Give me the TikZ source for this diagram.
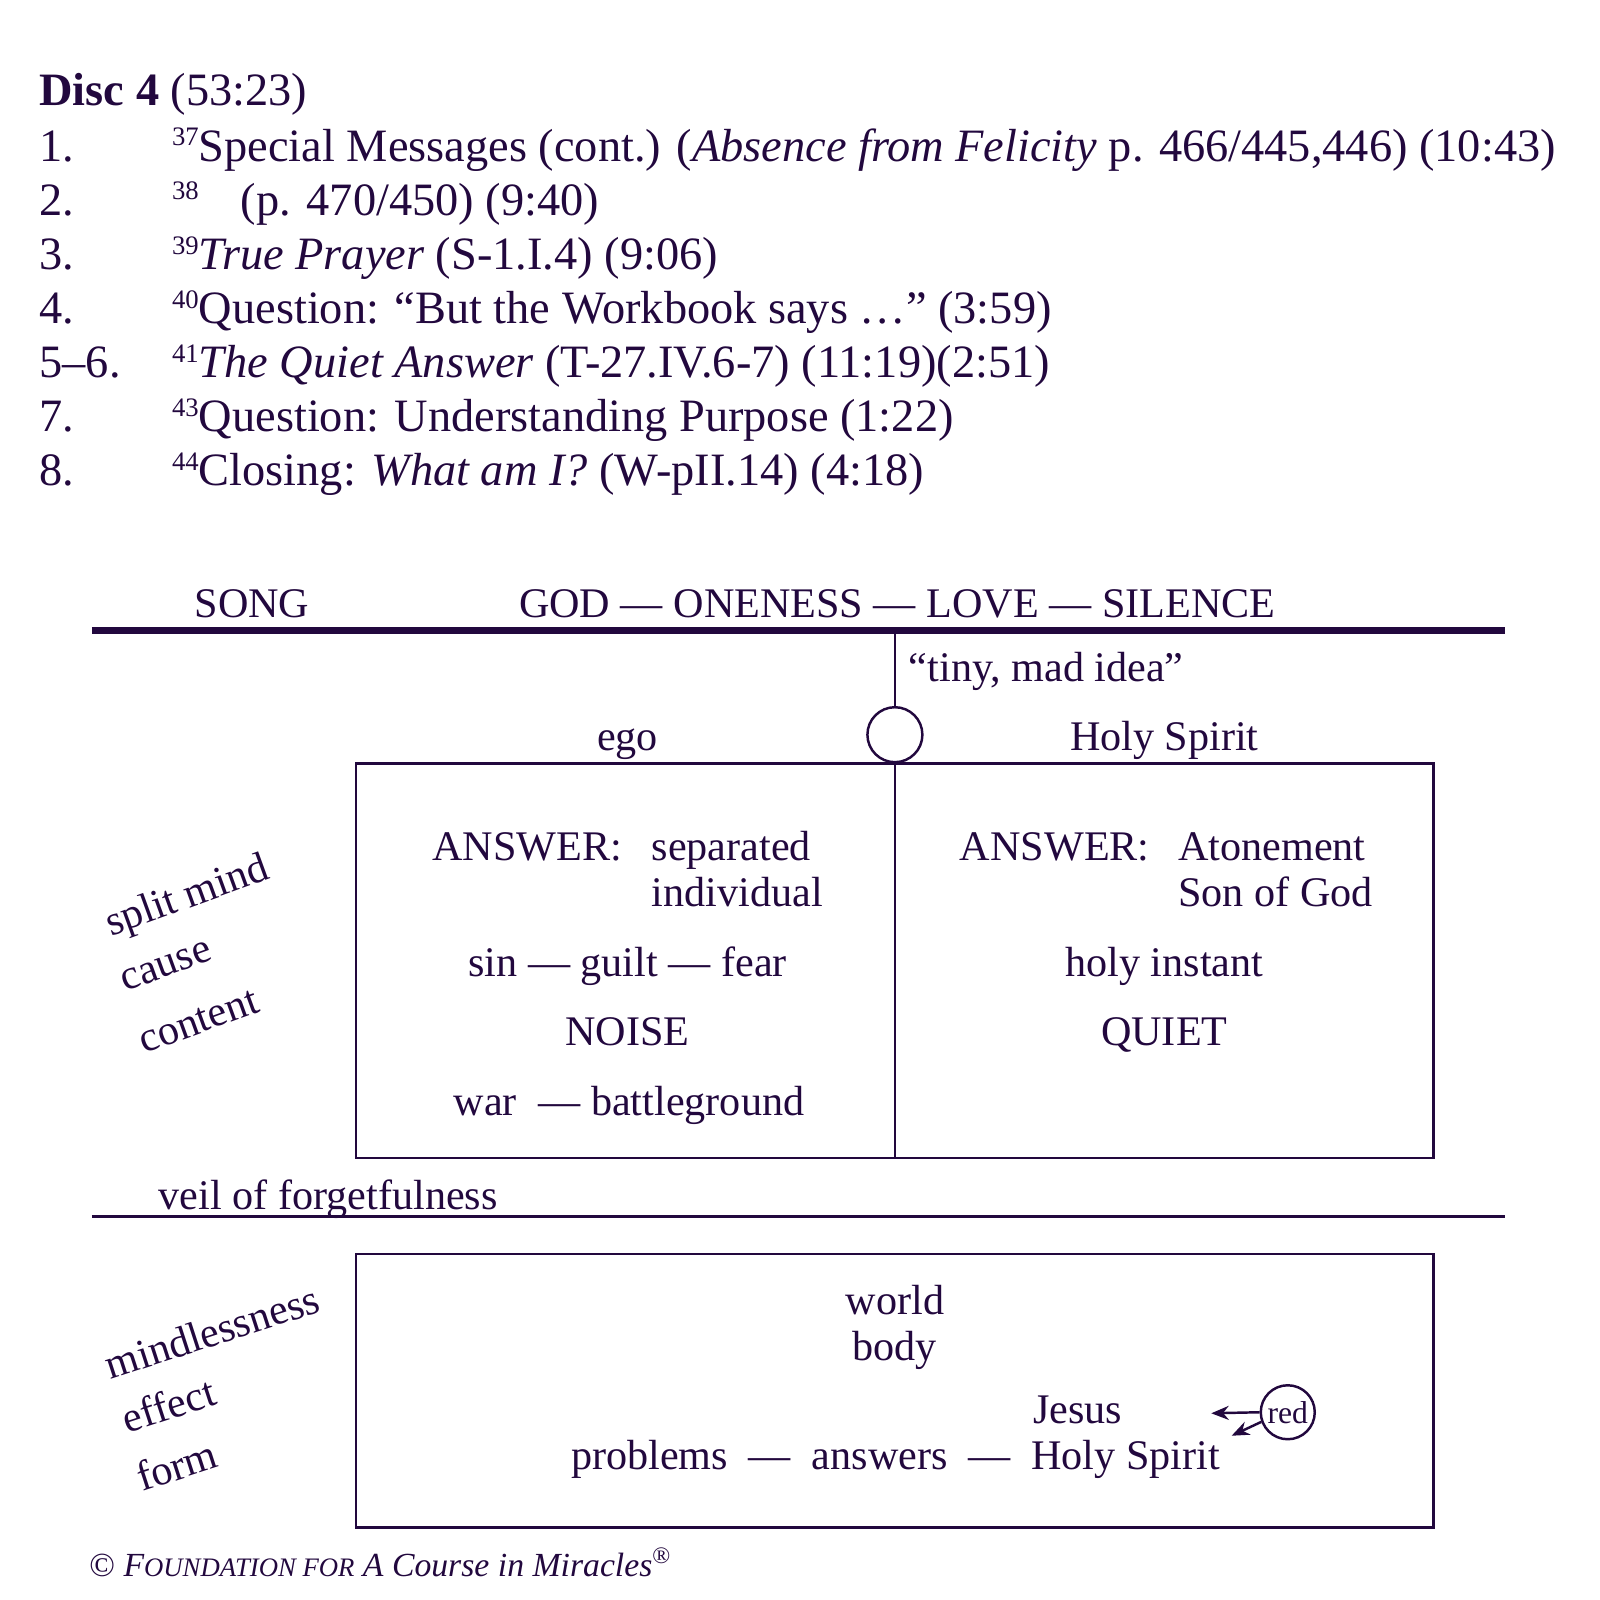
\documentclass[tikz,border=0pt]{standalone}
\usepackage{fontspec}
\setmainfont{Liberation Serif}
\usetikzlibrary{arrows.meta}
\definecolor{ink}{RGB}{34,8,62}
\newcommand{\tracknum}[1]{\raisebox{0.72ex}{\fontsize{7.6}{8}\selectfont #1}}

\begin{document}
\begin{tikzpicture}[x=0.010204cm, y=-0.010204cm, color=ink,
  txt/.style={anchor=base, font=\fontsize{12}{14}\selectfont, inner sep=0pt},
  ltxt/.style={txt, anchor=base west},
  head/.style={anchor=base west, font=\fontsize{13.2}{16}\selectfont, inner sep=0pt},
  slant/.style={font=\fontsize{12}{14}\selectfont, inner sep=0pt, rotate=#1},
  thinline/.style={line width=0.7pt},
  tip/.style={-{Stealth[length=5pt, width=4pt]}, line width=0.7pt}]
\useasboundingbox (0,0) rectangle (1568,1568);
% heading and tracks
\node[head] (disc) at (38,103) {\textbf{Disc 4} (53:23)};
\foreach \num/\txt [count=\i] in {
    1./{\tracknum{37}Special Messages (cont.) (\textit{Absence from Felicity} p. 466/445,446) (10:43)},
    2./{\tracknum{38}\hspace{12pt}(p. 470/450) (9:40)},
    3./{\tracknum{39}\textit{True Prayer} (S-1.I.4) (9:06)},
    4./{\tracknum{40}Question: “But the Workbook says …” (3:59)},
    5–6./{\tracknum{41}\textit{The Quiet Answer} (T-27.IV.6-7) (11:19)(2:51)},
    7./{\tracknum{43}Question: Understanding Purpose (1:22)},
    8./{\tracknum{44}Closing: \textit{What am I?} (W-pII.14) (4:18)}} {
    \node[head] (num\i) at (38,105+53*\i) {\num};
    \node[head] (item\i) at (168,105+53*\i) {\txt};
}
% top level
\node[txt] (song) at (247,605) {SONG};
\node[ltxt] (god) at (508,605) {GOD — ONENESS — LOVE — SILENCE};
\draw [line width=2pt] (90,618) -- (1475,618);
\coordinate (sep) at (877,618);
\node[ltxt] (tiny) at (890,668) {“tiny, mad idea”};
\node[draw, thinline, circle, minimum size=0.55cm, inner sep=0pt] (idea) at (877,720) {};
\draw [thinline] (sep) -- (idea.north);
\node[txt] (ego) at (615,735) {ego};
\node[txt] (hs) at (1141,735) {Holy Spirit};
% split mind box
\draw [thinline] (349,748) rectangle (1405,1135);
\coordinate (divbot) at (877,1135);
\draw [thinline] (idea.south) -- (divbot);
\node[ltxt] (egoans) at (423,843) {ANSWER:};
\node[ltxt] (egoa1) at (638,843) {separated};
\node[ltxt] (egoa2) at (638,888) {individual};
\node[ltxt] (hsans) at (940,843) {ANSWER:};
\node[ltxt] (hsa1) at (1154,843) {Atonement};
\node[ltxt] (hsa2) at (1154,888) {Son of God};
\node[txt] (sin) at (615,957) {sin — guilt — fear};
\node[txt] (instant) at (1141,957) {holy instant};
\node[txt] (noise) at (615,1025) {NOISE};
\node[txt] (quiet) at (1141,1025) {QUIET};
\node[ltxt] (war) at (444,1093) {war};
\node[ltxt] (battle) at (527,1093) {— battleground};
\node[slant=20] (split) at (184,880) {split mind};
\node[slant=20] (cause) at (163,947) {cause};
\node[slant=20] (content) at (195,1001) {content};
% veil
\node[ltxt] (veil) at (155,1185) {veil of forgetfulness};
\draw [thinline] (90,1192) -- (1475,1192);
% world box
\draw [thinline] (349,1229) rectangle (1405,1497);
\node[txt] (world) at (877,1288) {world};
\node[txt] (body) at (877,1333) {body};
\node[txt] (jesus) at (1056,1395) {Jesus};
\node[ltxt] (problems) at (559,1440) {problems};
\node[ltxt] (dasha) at (733,1440) {—};
\node[ltxt] (answers) at (795,1440) {answers};
\node[ltxt] (dashb) at (948,1440) {—};
\node[ltxt] (hs2) at (1010,1440) {Holy Spirit};
\node[draw, thinline, circle, minimum size=0.54cm, inner sep=0pt,
      font=\fontsize{9}{11}\selectfont] (red) at (1262,1384) {red};
\coordinate (tojesus) at (1187,1385);
\coordinate (tohs) at (1207,1407);
\draw [tip] (red.west) -- (tojesus);
\draw [tip] (red.200) -- (tohs);
\node[slant=18] (mindless) at (208,1305) {mindlessness};
\node[slant=18] (effect) at (165,1377) {effect};
\node[slant=18] (form) at (173,1436) {form};
% copyright
\node[ltxt, font=\fontsize{9.6}{12}\selectfont] (copy) at (87,1545)
  {© \textit{F{\fontsize{7.6}{9}\selectfont OUNDATION FOR} A Course in Miracles}\textsuperscript{®}};
\end{tikzpicture}
\end{document}
